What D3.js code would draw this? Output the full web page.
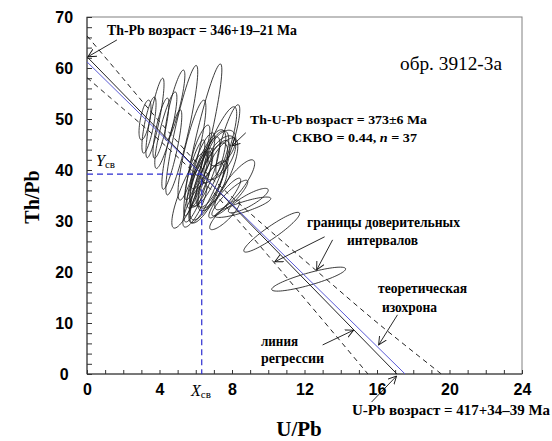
<!DOCTYPE html>
<html>
<head>
<meta charset="utf-8">
<script src="https://cdn.jsdelivr.net/npm/d3@7"></script>
<style>
    body { margin: 0; background: #fff; }
    svg { display: block; font-family: "Liberation Serif", "Times New Roman", serif; }
    .axis path { display: none; }
    .axis line { stroke: #333; }
    .axis text { font-size: 16px; font-weight: bold; fill: #000; }
    .frame { fill: none; stroke: #808080; stroke-width: 1; }
    .ell { fill: none; stroke: #1a1a1a; stroke-width: 0.85; }
    .regr { fill: none; stroke: #222; stroke-width: 1; }
    .iso { fill: none; stroke: #5b5bd6; stroke-width: 1; }
    .band { fill: none; stroke: #222; stroke-width: 1; stroke-dasharray: 5 4; }
    .centre { fill: none; stroke: #2d2dd0; stroke-width: 1.2; stroke-dasharray: 6 4; }
    .note { stroke: #111; stroke-width: 0.9; fill: none; }
    .lab { fill: #000; }
</style>
</head>
<body>
<div class="panel"></div>
<script>

// Data ////////////////////////////////////

const xLabels = [0, 4, 8, 12, 16, 20, 24];
const yLabels = [0, 10, 20, 30, 40, 50, 60, 70];

// error ellipses: [U/Pb, Th/Pb, sx, sy, rho]
const ellipses = [
    [3.42, 48.8, 0.39, 5.5, 0.75],
    [3.75, 50.2, 0.50, 7.8, 0.85],
    [4.08, 48.2, 0.44, 5.9, 0.80],
    [4.35, 47.8, 0.61, 7.5, 0.85],
    [3.20, 49.8, 0.33, 3.9, 0.60],
    [5.23, 47.8, 0.88, 12.7, 0.90],
    [6.39, 45.9, 1.05, 14.9, 0.92],
    [6.94, 41.0, 1.32, 11.4, 0.88],
    [5.79, 43.9, 0.77, 9.8, 0.85],
    [6.50, 39.6, 0.83, 6.9, 0.80],
    [6.67, 40.4, 0.99, 7.5, 0.75],
    [6.23, 38.4, 0.72, 5.9, 0.80],
    [6.89, 39.0, 0.88, 6.3, 0.70],
    [6.39, 41.8, 0.66, 5.5, 0.80],
    [7.05, 42.6, 0.77, 5.1, 0.65],
    [6.12, 36.7, 0.77, 6.9, 0.85],
    [6.78, 38.0, 1.10, 7.8, 0.80],
    [7.33, 42.4, 0.88, 4.3, 0.60],
    [5.95, 40.0, 0.55, 5.9, 0.85],
    [6.61, 35.5, 0.94, 5.9, 0.80],
    [7.22, 39.4, 1.10, 6.9, 0.75],
    [5.67, 36.1, 0.99, 7.5, 0.85],
    [7.44, 44.3, 0.77, 3.5, 0.50],
    [6.23, 43.9, 0.55, 4.9, 0.80],
    [6.94, 36.9, 0.83, 4.9, 0.70],
    [7.60, 34.5, 0.88, 3.9, 0.90],
    [7.88, 34.5, 0.99, 3.5, 0.90],
    [8.60, 32.7, 1.54, 2.0, 0.85],
    [10.19, 27.8, 1.54, 3.9, 0.93],
    [12.23, 18.6, 2.04, 2.35, 0.85],
    [8.15, 37.1, 1.10, 4.9, 0.85],
    [7.60, 31.2, 0.83, 2.9, 0.85],
    [4.85, 52.7, 0.55, 6.9, 0.85],
    [7.77, 45.9, 0.66, 6.9, 0.85],
    [4.68, 44.0, 0.55, 7.8, 0.85],
    [5.95, 33.1, 0.66, 4.3, 0.80],
    [8.90, 34.0, 1.10, 2.4, 0.85]
];

// regression line and theoretical isochron (axis intercepts)
const regression = [[0, 62.2], [17.1, 0]];
const isochron = [[0, 61.2], [17.55, 0]];

// confidence limits
const upperBand = [[0, 66.3], [2, 57.9], [4, 49.5], [6.33, 40.4], [8, 34.7], [10, 28.4], [13, 19.2], [16, 10.1], [19.55, 0]];
const lowerBand = [[0, 58.1], [2, 52.0], [4, 45.8], [6.33, 38.0], [8, 31.5], [10, 23.2], [13, 10.6], [15.5, 0]];

// centre of gravity
const centre = [6.33, 39.2];

// annotation arrows: [from, to]
const arrows = [
    [[1.65, 65.5], [0.05, 62.2]],
    [[8.76, 47.3], [7.99, 44.7]],
    [[13.11, 26.9], [10.36, 22.0]],
    [[13.55, 26.3], [12.67, 20.4]],
    [[17.13, 11.6], [16.09, 5.7]],
    [[13.0, 5.7], [14.71, 8.6]],
    [[15.7, -5.5], [17.08, -0.4]]
];

// Chart ////////////////////////////////////

const width = 552, height = 441;

const svg = d3.select(".panel").append("svg")
    .attr("width", width)
    .attr("height", height)
    .attr("viewBox", [0, 0, width, height]);

addArrow(svg);

const x = d3.scaleLinear().domain([0, 24]).range([87, 522]);
const y = d3.scaleLinear().domain([0, 70]).range([374, 17]);

svg.append("clipPath")
    .attr("id", "plot")
    .append("rect")
    .attr("x", x(0)).attr("y", y(70))
    .attr("width", x(24) - x(0)).attr("height", y(0) - y(70));

// Frame

svg.append("rect")
    .attr("class", "frame")
    .attr("x", x(0)).attr("y", y(70))
    .attr("width", x(24) - x(0)).attr("height", y(0) - y(70));

// Axes

svg.append("g")
    .attr("class", "axis")
    .attr("transform", `translate(0,${ y(0) })`)
    .call(d3.axisBottom(x)
        .tickValues(d3.range(0, 25, 1))
        .tickSize(-4)
        .tickPadding(10)
        .tickFormat(d => xLabels.includes(d) ? d : ""));

svg.append("g")
    .attr("class", "axis")
    .attr("transform", `translate(${ x(0) },0)`)
    .call(d3.axisLeft(y)
        .tickValues(d3.range(0, 71, 2))
        .tickSize(-5)
        .tickPadding(14)
        .tickFormat(d => yLabels.includes(d) ? d : ""))
    .selectAll("text")
        .attr("text-anchor", "middle")
        .attr("dx", "-0.55em");

svg.append("line")
    .attr("x1", x(0)).attr("x2", x(24))
    .attr("y1", y(0)).attr("y2", y(0))
    .attr("stroke", "#333");
svg.append("line")
    .attr("x1", x(0)).attr("x2", x(0))
    .attr("y1", y(0)).attr("y2", y(70))
    .attr("stroke", "#333");

// Axis titles

svg.append("text")
    .attr("font-weight", "bold")
    .attr("x", 299).attr("y", 436)
    .attr("text-anchor", "middle")
    .attr("font-size", 21)
    .text("U/Pb");

svg.append("text")
    .attr("font-weight", "bold")
    .attr("transform", "translate(39,197) rotate(-90)")
    .attr("text-anchor", "middle")
    .attr("font-size", 20)
    .text("Th/Pb");

// Plot content

const plot = svg.append("g").attr("clip-path", "url(#plot)");

const line = d3.line().x(d => x(d[0])).y(d => y(d[1]));
const closed = d3.line().x(d => x(d[0])).y(d => y(d[1])).curve(d3.curveLinearClosed);
const smooth = d3.line().x(d => x(d[0])).y(d => y(d[1])).curve(d3.curveNatural);

plot.selectAll(".ell")
    .data(ellipses)
    .join("path")
    .attr("class", "ell")
    .attr("d", d => closed(ellipsePoints(d)));

plot.append("path").attr("class", "band").attr("d", smooth(upperBand));
plot.append("path").attr("class", "band").attr("d", smooth(lowerBand));

plot.append("path").attr("class", "regr").attr("d", line(regression));
plot.append("path").attr("class", "iso").attr("d", line(isochron));

plot.append("path").attr("class", "centre")
    .attr("d", line([[0, centre[1]], centre, [centre[0], 0]]));

// Arrows

svg.selectAll(".note")
    .data(arrows)
    .join("path")
    .attr("class", "note")
    .attr("marker-end", "url(#arrow)")
    .attr("d", d => line(d));

// Labels

label("Th-Pb возраст = 346+19–21 Ma", 107, 297, 30, 14.5);
label("Th-U-Pb возраст = 373±6  Ma", 250, 427, 119, 13.5);
label("границы доверительных", 307, 460, 222, 14);
label("интервалов", 347, 418, 240, 14);
label("теоретическая", 378, 467, 288, 14);
label("изохрона", 382, 437, 307, 14);
label("линия", 261, 298, 341, 14);
label("регрессии", 261, 324, 358, 14);
label("U-Pb возраст = 417+34–39  Ma", 352, 550, 410, 14.5);

label("обр. 3912-3а", 400, 502, 63, 19).attr("font-weight", "normal");

const skvo = label("", 292, 417, 137, 13.5);
skvo.append("tspan").text("СКВО = 0.44, ");
skvo.append("tspan").attr("font-style", "italic").text("n");
skvo.append("tspan").text(" = 37");

const ycb = svg.append("text")
    .attr("x", 96).attr("y", 166)
    .attr("font-size", 16)
    .attr("font-style", "italic");
ycb.append("tspan").text("Y");
ycb.append("tspan").attr("font-size", 11).attr("font-style", "normal").attr("dy", 2).text("св");

const xcb = svg.append("text")
    .attr("x", 191).attr("y", 396)
    .attr("font-size", 16)
    .attr("font-style", "italic");
xcb.append("tspan").text("X");
xcb.append("tspan").attr("font-size", 11).attr("font-style", "normal").attr("dy", 2).text("св");

function ellipsePoints([cx, cy, sx, sy, r]) {
    const n = 72;
    return d3.range(n).map(i => {
        const t = 2 * Math.PI * i / n;
        return [
            cx + sx * Math.cos(t),
            cy + sy * (r * Math.cos(t) + Math.sqrt(1 - r * r) * Math.sin(t))
        ];
    });
}

function label(text, x0, x1, yc, size) {
    return svg.append("text")
        .attr("class", "lab")
        .attr("font-weight", "bold")
        .attr("x", x0)
        .attr("y", yc)
        .attr("dy", "0.35em")
        .attr("font-size", size)
        .attr("textLength", x1 - x0)
        .attr("lengthAdjust", "spacingAndGlyphs")
        .text(text);
}

function addArrow(container) {
    container.append("defs")
        .append("marker")
            .attr("id", "arrow")
            .attr("viewBox", "0 0 10 10")
            .attr("refX", 9).attr("refY", 5)
            .attr("markerWidth", 9)
            .attr("markerHeight", 9)
            .attr("markerUnits", "userSpaceOnUse")
            .attr("orient", "auto")
        .append("path")
            .attr("d", "M0,0.5 L9,5 L0,9.5")
            .attr("fill", "none")
            .attr("stroke", "#111")
            .attr("stroke-width", 1);
}
</script>
</body>
</html>
